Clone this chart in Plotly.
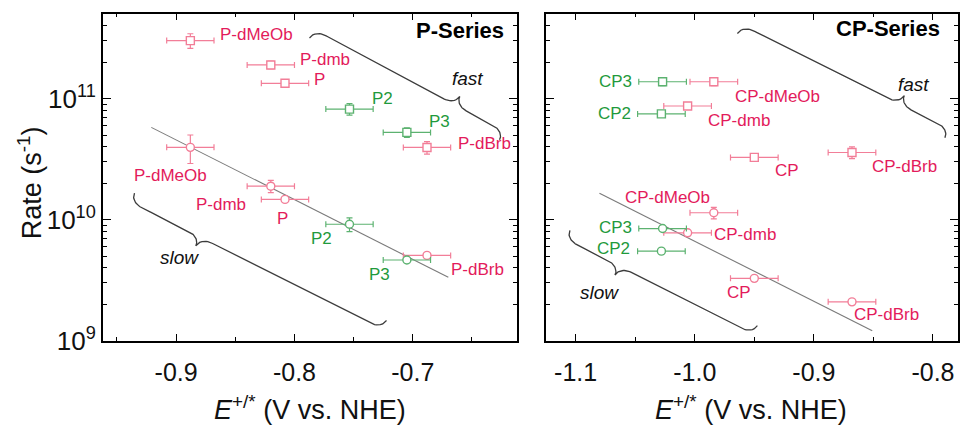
import numpy as np
import plotly.graph_objects as go

# ---------------- data ----------------
p_names = ["P-dMeOb", "P-dmb", "P", "P2", "P3", "P-dBrb"]
p_green = [False, False, False, True, True, False]
p_E = [-0.888, -0.820, -0.808, -0.7535, -0.705, -0.688]
p_E_err = [0.02, 0.02, 0.02, 0.02, 0.02, 0.02]
p_fast = [3.02e11, 1.90e11, 1.34e11, 8.2e10, 5.26e10, 3.95e10]
p_fast_err = [4.2e10, 1.3e10, 0.7e10, 0.9e10, 0.47e10, 0.47e10]
p_slow = [3.96e10, 1.89e10, 1.47e10, 9.16e9, 4.64e9, 5.06e9]
p_slow_err = [1.05e10, 2.2e9, 0.5e9, 1.2e9, 1.8e8, 2.8e8]

cp_names = ["CP-dMeOb", "CP-dmb", "CP", "CP-dBrb", "CP2", "CP3"]
cp_green = [False, False, False, False, True, True]
cp_E = [-0.984, -1.006, -0.950, -0.868, -1.028, -1.027]
cp_E_err = [0.02, 0.02, 0.02, 0.02, 0.02, 0.02]
cp_fast = [1.38e11, 8.7e10, 3.27e10, 3.59e10, 7.48e10, 1.38e11]
cp_fast_err = [1.0e10, 0.5e10, 0.24e10, 0.4e10, 0.35e10, 1.0e10]
cp_slow = [1.14e10, 7.78e9, 3.27e9, 2.09e9, 5.49e9, 8.44e9]
cp_slow_err = [1.25e9, 2.8e8, 1.2e8, 5e7, 1e8, 3e8]

# linear fits of log10(rate) vs E for slow series: (intercept, slope, E range)
p_fit = (6.213, -4.94, [-0.921, -0.670])
cp_fit = (4.856, -4.965, [-1.080, -0.851])

x_ticks_left = [-0.9, -0.8, -0.7]
x_ticks_right = [-1.1, -1.0, -0.9, -0.8]
y_ticks = [1e9, 1e10, 1e11]
y_ticktext = ["10<sup>9</sup>", "10<sup>10</sup>", "10<sup>11</sup>"]

# ---------------- styles ----------------
W, H = 960, 427
PINK_M, PINK_T = "#f27e98", "#e31b5b"
GREEN_M, GREEN_T = "#5cb270", "#1f9a3c"
FONT = "Liberation Sans, Arial, sans-serif"

dom_l = [103 / W, 518 / W]
dom_r = [547 / W, 1.0]
ydom = [(H - 353) / H, (H - 14) / H]
xr_l = [-0.962, -0.612]
xr_r = [-1.125, -0.779]
yr = [9.0, 11.704]

fig = go.Figure()

# fit lines first (drawn beneath markers)
for (a, b, rng), xa, ya in [(p_fit, "x", "y"), (cp_fit, "x2", "y2")]:
    ex = np.array(rng)
    fig.add_trace(go.Scatter(x=ex, y=10 ** (a + b * ex), mode="lines",
                             xaxis=xa, yaxis=ya, showlegend=False,
                             line=dict(color="#7a7a7a", width=1.1), hoverinfo="skip"))


def add_points(E, Eerr, vals, errs, green, xa, ya, symbol):
    for is_green in (False, True):
        idx = [i for i, g in enumerate(green) if g == is_green]
        c = GREEN_M if is_green else PINK_M
        fig.add_trace(go.Scatter(
            x=[E[i] for i in idx], y=[vals[i] for i in idx],
            mode="markers", xaxis=xa, yaxis=ya, showlegend=False,
            marker=dict(symbol=symbol, size=8, color="white",
                        line=dict(color=c, width=1.4)),
            error_x=dict(type="data", array=[Eerr[i] for i in idx], color=c,
                         thickness=1.2, width=3),
            error_y=dict(type="data", array=[errs[i] for i in idx], color=c,
                         thickness=1.2, width=3),
            hoverinfo="skip"))


add_points(p_E, p_E_err, p_fast, p_fast_err, p_green, "x", "y", "square")
add_points(p_E, p_E_err, p_slow, p_slow_err, p_green, "x", "y", "circle")
add_points(cp_E, cp_E_err, cp_fast, cp_fast_err, cp_green, "x2", "y2", "square")
add_points(cp_E, cp_E_err, cp_slow, cp_slow_err, cp_green, "x2", "y2", "circle")


# ---------------- curly braces (annotation decorations) ----------------
def brace(p0, p1, frac, side, dom, xr, w=10.0, r=13.0):
    sx = (dom[1] - dom[0]) * W / (xr[1] - xr[0])
    sy = (ydom[1] - ydom[0]) * H / (yr[1] - yr[0])
    P0 = np.array([p0[0] * sx, -p0[1] * sy])
    P1 = np.array([p1[0] * sx, -p1[1] * sy])
    d = P1 - P0
    L = np.hypot(*d)
    u = d / L
    nrm = np.array([u[1], -u[0]]) * side
    m = frac * L
    s = np.unique(np.concatenate([np.linspace(0, m, 120), np.linspace(m, L, 120)]))

    def f(si):
        if si < r:
            t = si / r
            return w * np.sqrt(max(0.0, 1 - (1 - t) ** 2))
        if si < m - r:
            return w
        if si <= m:
            t = (si - (m - r)) / r
            return w + w * (1 - np.sqrt(max(0.0, 1 - t ** 2)))
        if si < m + r:
            t = (m + r - si) / r
            return w + w * (1 - np.sqrt(max(0.0, 1 - t ** 2)))
        if si < L - r:
            return w
        t = (L - si) / r
        return w * np.sqrt(max(0.0, 1 - (1 - t) ** 2))

    pts = np.array([P0 + u * si + nrm * f(si) for si in s])
    return pts[:, 0] / sx, 10 ** (-pts[:, 1] / sy)


braces = [
    # (start (E, log10 rate), end, cusp fraction, side, panel)
    ((-0.7873, 11.502), (-0.6267, 10.660), 0.74, +1, "L"),
    ((-0.9352, 10.219), (-0.7222, 9.167), 0.28, -1, "L"),
    ((-0.9642, 11.538), (-0.7900, 10.677), 0.76, +1, "R"),
    ((-1.1048, 9.912), (-0.9474, 9.124), 0.29, -1, "R"),
]
for p0, p1, frac, side, panel in braces:
    dom, xr, xa, ya = (dom_l, xr_l, "x", "y") if panel == "L" else (dom_r, xr_r, "x2", "y2")
    bx, by = brace(p0, p1, frac, side, dom, xr)
    fig.add_trace(go.Scatter(x=bx, y=by, mode="lines", xaxis=xa, yaxis=ya,
                             showlegend=False, hoverinfo="skip",
                             line=dict(color="#3c3c3c", width=1.3)))

# ---------------- text labels ----------------
labels = [
    # text, E, log10 y, colour, panel
    ("P-dMeOb", -0.8317, 11.534, PINK_T, "L"),
    ("P-dmb", -0.7738, 11.322, PINK_T, "L"),
    ("P", -0.7789, 11.160, PINK_T, "L"),
    ("P2", -0.726, 11.002, GREEN_T, "L"),
    ("P3", -0.6774, 10.809, GREEN_T, "L"),
    ("P-dBrb", -0.6398, 10.633, PINK_T, "L"),
    ("P-dMeOb", -0.9044, 10.365, PINK_T, "L"),
    ("P-dmb", -0.862, 10.121, PINK_T, "L"),
    ("P", -0.8101, 10.012, PINK_T, "L"),
    ("P2", -0.7768, 9.842, GREEN_T, "L"),
    ("P3", -0.7281, 9.550, GREEN_T, "L"),
    ("P-dBrb", -0.6453, 9.587, PINK_T, "L"),
    ("CP3", -1.0663, 11.139, GREEN_T, "R"),
    ("CP-dMeOb", -0.9307, 11.020, PINK_T, "R"),
    ("CP2", -1.0674, 10.874, GREEN_T, "R"),
    ("CP-dmb", -0.9628, 10.821, PINK_T, "R"),
    ("CP", -0.9223, 10.409, PINK_T, "R"),
    ("CP-dBrb", -0.8236, 10.441, PINK_T, "R"),
    ("CP-dMeOb", -1.0228, 10.183, PINK_T, "R"),
    ("CP3", -1.0667, 9.931, GREEN_T, "R"),
    ("CP-dmb", -0.9575, 9.878, PINK_T, "R"),
    ("CP2", -1.068, 9.759, GREEN_T, "R"),
    ("CP", -0.9628, 9.400, PINK_T, "R"),
    ("CP-dBrb", -0.8387, 9.214, PINK_T, "R"),
]
ann = []
for txt, xv, ly, col, panel in labels:
    ann.append(dict(text=txt, x=xv, y=ly, xref="x" if panel == "L" else "x2",
                    yref="y" if panel == "L" else "y2", showarrow=False,
                    font=dict(family=FONT, size=17, color=col)))
for txt, xv, ly, panel in [("fast", -0.6538, 11.167, "L"), ("slow", -0.8972, 9.685, "L"),
                           ("fast", -0.8161, 11.113, "R"), ("slow", -1.0799, 9.400, "R")]:
    ann.append(dict(text="<i>%s</i>" % txt, x=xv, y=ly, xref="x" if panel == "L" else "x2",
                    yref="y" if panel == "L" else "y2", showarrow=False,
                    font=dict(family=FONT, size=19, color="#111111")))
for txt, xv, ly, panel in [("P-Series", -0.6601, 11.560, "L"), ("CP-Series", -0.8374, 11.578, "R")]:
    ann.append(dict(text="<b>%s</b>" % txt, x=xv, y=ly, xref="x" if panel == "L" else "x2",
                    yref="y" if panel == "L" else "y2", showarrow=False,
                    font=dict(family=FONT, size=22, color="#000000")))

xtitle = "<i>E</i><sup>+/*</sup> (V vs. NHE)"
for cx in ((dom_l[0] + dom_l[1]) / 2, (dom_r[0] + dom_r[1]) / 2 - 0.001):
    ann.append(dict(text=xtitle, x=cx, y=(H - 423) / H, xref="paper",
                    yref="paper", showarrow=False, xanchor="center", yanchor="middle",
                    font=dict(family=FONT, size=27, color="#111111")))
ann.append(dict(text="Rate (s<sup>-1</sup>)", x=30 / W, y=(H - 189) / H, xref="paper",
                yref="paper", showarrow=False, textangle=-90, xanchor="center",
                yanchor="middle", font=dict(family=FONT, size=27, color="#111111")))

# ---------------- axes ----------------
minor_y = [k * 10 ** e for e in (9, 10, 11) for k in range(2, 10) if k * 10 ** e < 10 ** yr[1]]


def xaxis(dom, rng, ticks, anchor):
    minor_vals = [t + 0.05 for t in ticks] + [ticks[0] - 0.05]
    return dict(domain=dom, range=rng, anchor=anchor, tickvals=ticks,
                ticktext=["%.1f" % t for t in ticks], ticks="inside", ticklen=7,
                tickwidth=1.2, tickcolor="black", showline=True, linecolor="black",
                linewidth=1.5, mirror="ticks", showgrid=False, zeroline=False,
                ticklabelstandoff=9,
                tickfont=dict(family=FONT, size=25, color="#111111"),
                minor=dict(tickvals=minor_vals, ticks="inside", ticklen=4,
                           tickwidth=1.2, tickcolor="black", showgrid=False))


def yaxis(anchor, labels_on):
    return dict(domain=ydom, type="log", range=yr, anchor=anchor, tickvals=y_ticks,
                ticktext=y_ticktext, showticklabels=labels_on, ticks="inside",
                ticklen=8, tickwidth=1.2, tickcolor="black", showline=True,
                linecolor="black", linewidth=1.5, mirror="ticks", showgrid=False,
                zeroline=False, tickfont=dict(family=FONT, size=26, color="#111111"),
                minor=dict(tickvals=minor_y, ticks="inside", ticklen=4, tickwidth=1.2,
                           tickcolor="black", showgrid=False))


fig.update_layout(
    width=W, height=H, margin=dict(l=0, r=0, t=0, b=0),
    paper_bgcolor="white", plot_bgcolor="white", showlegend=False,
    xaxis=xaxis(dom_l, xr_l, x_ticks_left, "y"),
    yaxis=yaxis("x", True),
    xaxis2=xaxis(dom_r, xr_r, x_ticks_right, "y2"),
    yaxis2=yaxis("x2", False),
    annotations=ann,
)

fig.write_html("out.html")
